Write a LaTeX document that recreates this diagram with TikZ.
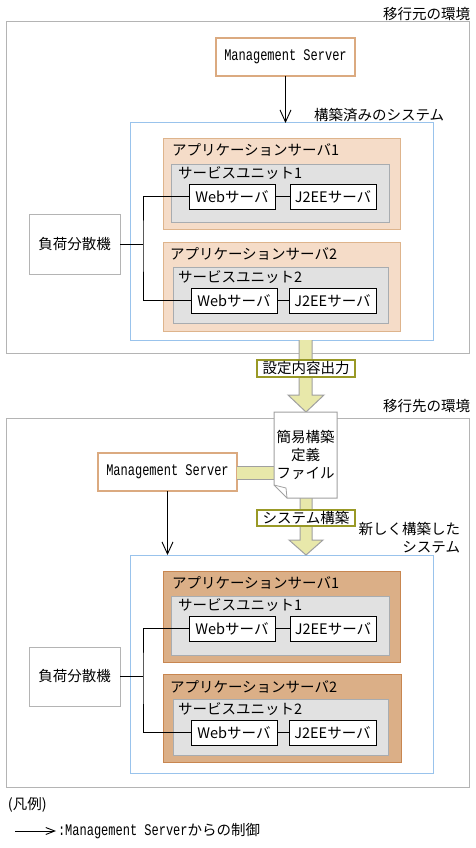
\documentclass[tikz,border=0pt]{standalone}
\usepackage{fontspec}
\setmainfont{Noto Sans CJK JP}
\newfontfamily\msfont{Liberation Mono}
\usepackage{graphicx}
\usetikzlibrary{arrows.meta}
\definecolor{envgray}{HTML}{B4B4B4}
\definecolor{bluec}{HTML}{99C3EC}
\definecolor{peach}{HTML}{F5DCC8}
\definecolor{peachd}{HTML}{DEB48C}
\definecolor{tanf}{HTML}{DBAF87}
\definecolor{tand}{HTML}{C88650}
\definecolor{suf}{HTML}{E1E1E1}
\definecolor{sud}{HTML}{A8ACB0}
\definecolor{msc}{HTML}{DBAA80}
\definecolor{yel}{HTML}{E8E8AA}
\definecolor{arrgray}{HTML}{A0A0A0}
\definecolor{olivec}{HTML}{999926}
\newcommand\ms[1]{\scalebox{1}[1.35]{\fontsize{12}{14}\msfont #1}}
\tikzset{
  txt/.style={inner sep=0pt, outer sep=0pt},
  envbox/.style={draw=envgray, line width=1pt, anchor=north west, inner sep=0pt, outer sep=0pt},
  msbox/.style={draw=msc, line width=2pt, fill=white, anchor=north west, inner sep=0pt, outer sep=0pt, minimum width=139pt, minimum height=38pt},
  bluebox/.style={draw=bluec, line width=1pt, anchor=north west, inner sep=0pt, outer sep=0pt},
  asold/.style={draw=peachd, fill=peach, line width=1pt, anchor=north west, inner sep=0pt, outer sep=0pt},
  asnew/.style={draw=tand, fill=tanf, line width=1pt, anchor=north west, inner sep=0pt, outer sep=0pt},
  subox/.style={draw=sud, fill=suf, line width=1pt, anchor=north west, inner sep=0pt, outer sep=0pt},
  srv/.style={draw=black, fill=white, line width=1pt, anchor=north west, inner sep=0pt, outer sep=0pt, minimum width=86pt, minimum height=25pt},
  lbbox/.style={draw=envgray, fill=white, line width=1pt, anchor=north west, inner sep=0pt, outer sep=0pt, minimum width=91pt, minimum height=60pt},
  lblbox/.style={draw=olivec, fill=white, line width=2pt, inner sep=0pt, outer sep=0pt, minimum width=98pt, minimum height=17pt},
  ctl/.style={draw=black, line width=0.9pt, -{Straight Barb[length=12pt,width=11pt]}},
  ctlsmall/.style={draw=black, line width=0.9pt, -{Straight Barb[length=9pt,width=7pt]}},
  wire/.style={draw=black, line width=0.9pt},
  bigarrow/.style={fill=yel},
  bigedge/.style={draw=arrgray, line width=1pt},
}
\begin{document}
\begin{tikzpicture}[x=1pt,y=-1pt,font=\fontsize{14.5}{17}\selectfont]
\useasboundingbox[fill=white] (0,0) rectangle (475,848);

% ===== source environment =====
\node[envbox, minimum width=463pt, minimum height=331pt] (envA) at (6,22) {};
\node[txt, anchor=east] (envAlbl) at (470,14) {移行元の環境};
\node[msbox] (msA) at (216,38) {\ms{Management Server}};
\node[txt, anchor=west] (sysAlbl) at (314,115) {構築済みのシステム};
\node[bluebox, minimum width=303pt, minimum height=217pt] (blueA) at (130,123) {};
\draw[ctl] (msA.south) -- (msA.south |- blueA.north);

\node[asold, minimum width=237pt, minimum height=91pt] (asA1) at (163,138) {};
\node[txt, anchor=west] (asA1l) at (172,150) {アプリケーションサーバ1};
\node[subox, minimum width=218pt, minimum height=58pt] (suA1) at (171,164) {};
\node[txt, anchor=west] (suA1l) at (178,173) {サービスユニット1};
\node[srv] (webA1) at (189,184) {Webサーバ};
\node[srv] (j2A1) at (290,184) {J2EEサーバ};

\node[asold, minimum width=237pt, minimum height=89pt] (asA2) at (163,242) {};
\node[txt, anchor=west] (asA2l) at (170,254) {アプリケーションサーバ2};
\node[subox, minimum width=215pt, minimum height=56pt] (suA2) at (173,267) {};
\node[txt, anchor=west] (suA2l) at (178,277) {サービスユニット2};
\node[srv] (webA2) at (191,288) {Webサーバ};
\node[srv, minimum width=87pt] (j2A2) at (289,288) {J2EEサーバ};

\node[lbbox] (lbA) at (29,214) {負荷分散機};
\coordinate (jA) at (143,244);
\draw[wire] (lbA.east) -- (jA);
\draw[wire] (webA1.west) -| (jA) |- (webA2.west);
\draw[wire] (webA1) -- (j2A1);
\draw[wire] (webA2) -- (j2A2);

% ===== target environment =====
\node[envbox, minimum width=463pt, minimum height=369pt] (envB) at (6,418) {};
\node[txt, anchor=east] (envBlbl) at (470,406) {移行先の環境};
\node[msbox] (msB) at (98,453) {\ms{Management Server}};
\node[bluebox, minimum width=303pt, minimum height=218pt] (blueB) at (130,555) {};
\draw[ctl] (msB.south) -- (msB.south |- blueB.north);
\node[txt, anchor=east] (newl1) at (460,529) {新しく構築した};
\node[txt, anchor=east] (newl2) at (460,547) {システム};

\node[asnew, minimum width=237pt, minimum height=91pt] (asB1) at (163,571) {};
\node[txt, anchor=west] (asB1l) at (172,583) {アプリケーションサーバ1};
\node[subox, minimum width=218pt, minimum height=59pt] (suB1) at (171,596) {};
\node[txt, anchor=west] (suB1l) at (178,605) {サービスユニット1};
\node[srv] (webB1) at (189,616) {Webサーバ};
\node[srv] (j2B1) at (290,616) {J2EEサーバ};

\node[asnew, minimum width=238pt, minimum height=88pt] (asB2) at (163,674) {};
\node[txt, anchor=west] (asB2l) at (170,687) {アプリケーションサーバ2};
\node[subox, minimum width=215pt, minimum height=56pt] (suB2) at (173,699) {};
\node[txt, anchor=west] (suB2l) at (178,709) {サービスユニット2};
\node[srv] (webB2) at (191,720) {Webサーバ};
\node[srv, minimum width=87pt] (j2B2) at (289,720) {J2EEサーバ};

\node[lbbox, minimum height=59pt] (lbB) at (29,647) {負荷分散機};
\coordinate (jB) at (143,676.5);
\draw[wire] (lbB.east) -- (jB);
\draw[wire] (webB1.west) -| (jB) |- (webB2.west);
\draw[wire] (webB1) -- (j2B1);
\draw[wire] (webB2) -- (j2B2);

% ===== block arrows =====
\fill[bigarrow] (299,340) -- (312,340) -- (312,395) -- (324,395) -- (306,412) -- (288,395) -- (299,395) -- cycle;
\draw[bigedge] (299,340) -- (299,395) -- (288,395) -- (306,412) -- (324,395) -- (312,395) -- (312,340);
\node[lblbox] (outlbl) at (306,368.5) {設定内容出力};

\fill[bigarrow] (300,497) -- (312,497) -- (312,540) -- (323,540) -- (306,555) -- (289,540) -- (300,540) -- cycle;
\draw[bigedge] (300,497) -- (300,540) -- (289,540) -- (306,555) -- (323,540) -- (312,540) -- (312,497);
\node[lblbox, minimum height=16pt] (buildlbl) at (306,518) {システム構築};

% connector from Management Server to definition file
\fill[yel] (msB.east |- 0,466) rectangle (274,479);
\draw[bigedge] (msB.east |- 0,466) -- (274,466);
\draw[bigedge] (msB.east |- 0,479) -- (274,479);

% definition file (document with folded corner)
\node[txt, anchor=north west, minimum width=63pt, minimum height=86pt] (doc) at (274,412) {};
\draw[draw=arrgray, fill=white, line width=1pt] (274,412) -- (337,412) -- (337,498) -- (287,498) -- (274,485) -- cycle;
\draw[draw=arrgray, line width=0.8pt] (274,485) -- (286,488) -- (287,498);
\node[txt, align=center, font=\fontsize{14.5}{18}\selectfont] (doctxt) at (305.5,455) {簡易構築\\定義\\ファイル};

% ===== legend =====
\node[txt, anchor=west] (legend) at (8,805) {(凡例)};
\coordinate (lgs) at (15,831);
\coordinate (lge) at (56,831);
\draw[ctlsmall] (lgs) -- (lge);
\node[txt, anchor=west] (legtxt) at (58,831) {\ms{:Management Server}からの制御};
\end{tikzpicture}
\end{document}
